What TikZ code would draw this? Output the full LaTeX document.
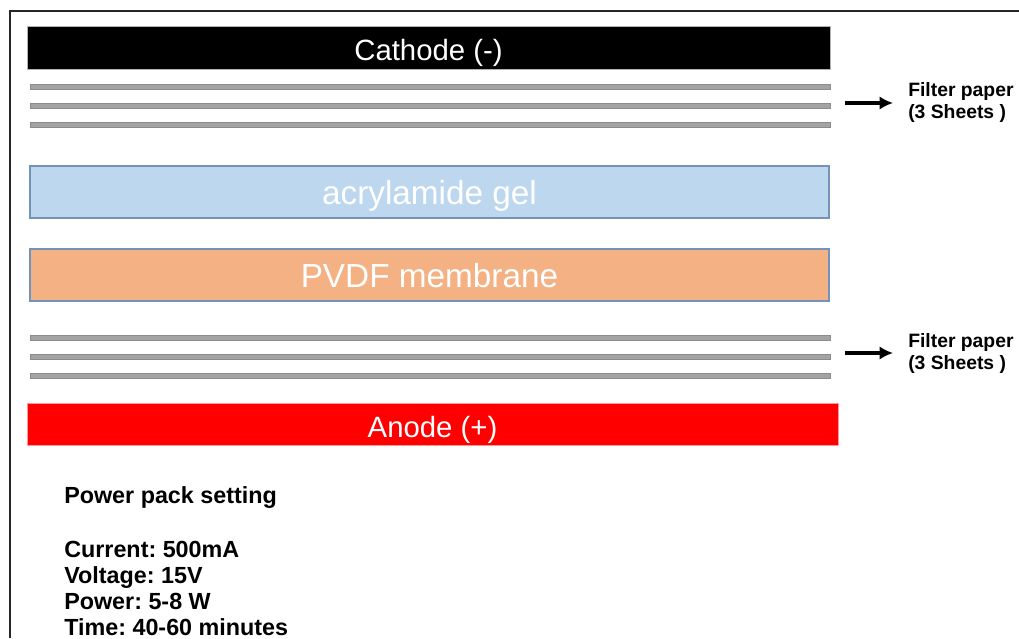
\documentclass[tikz,border=0pt]{standalone}
\usepackage{fontspec}
\setmainfont{Liberation Sans}
\usetikzlibrary{arrows.meta}
\definecolor{gelblue}{HTML}{BDD7EE}
\definecolor{pvdforange}{HTML}{F4B183}
\definecolor{edgeblue}{HTML}{7393BA}
\definecolor{sheetgray}{HTML}{A3A3A3}

\begin{document}
\begin{tikzpicture}[x=0.75pt, y=-0.75pt, >={Latex[length=10pt, width=10pt]},
	bar/.style={inner sep=0pt, text=white, text depth=0pt, text height=20pt, font=\fontsize{22}{26}\selectfont},
	layer/.style={bar, draw=edgeblue, line width=1pt, minimum width=599.25pt, minimum height=39pt, text height=18pt, font=\fontsize{25}{30}\selectfont},
	sheet/.style={draw=gray!90, fill=sheetgray, line width=0.6pt, minimum width=600pt, minimum height=4.2pt, inner sep=0pt},
	lbl/.style={anchor=west, inner sep=0pt, align=left, font=\bfseries\frenchspacing\fontsize{14.5}{16.5}\selectfont},
	txt/.style={anchor=base west, inner sep=0pt, font=\bfseries\frenchspacing\fontsize{17.5}{20}\selectfont}]
	\useasboundingbox (0,0) rectangle (1019,638);
	\draw[line width=1.5pt, black!85] (1019,11) -- (10,11) -- (10,638);
	% electrodes and the stack between them
	\node[bar, fill=black, draw=gray!60, minimum width=602.25pt, minimum height=32.25pt] (cath) at (428.5,47.5) {Cathode (-)};
	\foreach \y [count=\i] in {87,106,125} {\node[sheet] (top\i) at (430,\y) {};}
	\node[layer, fill=gelblue] (gel) at (429.5,192) {acrylamide gel};
	\node[layer, fill=pvdforange] (pvdf) at (429.5,275) {PVDF membrane};
	\foreach \y [count=\i] in {338,357,376} {\node[sheet] (bot\i) at (430,\y) {};}
	\node[bar, fill=red, draw=red!40, minimum width=608.25pt, minimum height=31.5pt] (anod) at (432.5,424) {Anode (+)};
	% side labels
	\node[lbl] (ftop) at (908,103) {Filter paper\\(3 Sheets )};
	\node[lbl] (fbot) at (908,353) {Filter paper\\(3 Sheets )};
	\foreach \a/\b in {top2/ftop, bot2/fbot} {\draw[->, line width=2.4pt] ([xshift=11.25pt]\b.west -| \a.east) -- ([xshift=-11.25pt]\b.west);}
	% power pack
	\node[txt] (pp) at (64,503) {Power pack setting};
	\foreach \t [count=\i] in {Current: 500mA, Voltage: 15V, Power: 5-8 W, Time: 40-60 minutes} {\node[txt] (set\i) at (64,{557+26*(\i-1)}) {\t};}
\end{tikzpicture}
\end{document}
